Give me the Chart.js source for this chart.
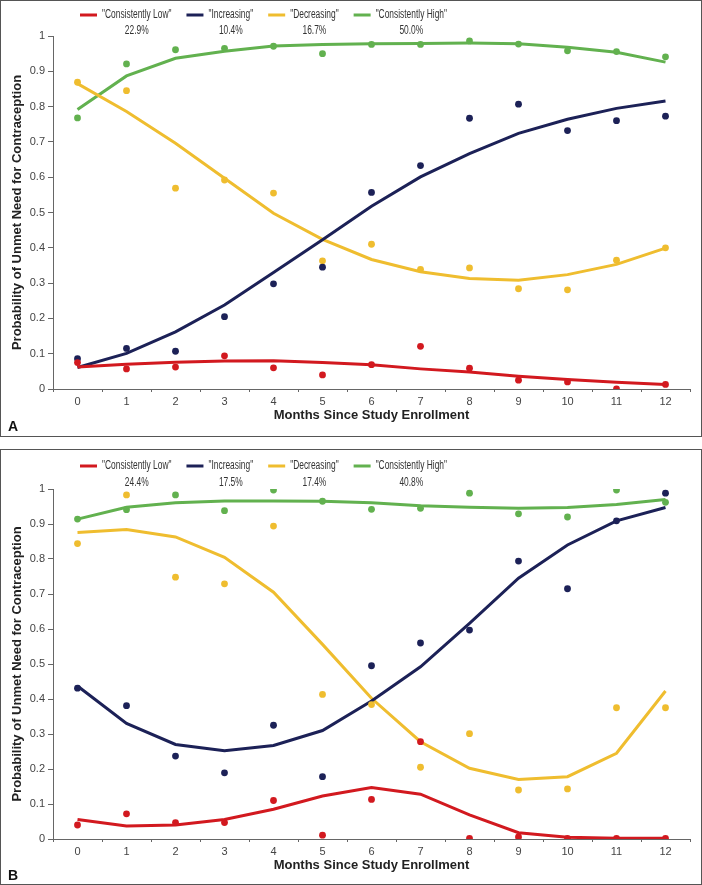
<!DOCTYPE html>
<html>
<head>
<meta charset="utf-8">
<script src="https://cdn.jsdelivr.net/npm/chart.js@4.4.1/dist/chart.umd.min.js"></script>
<style>
  body { margin: 0; background: #fff; width: 702px; height: 885px; position: relative; overflow: hidden; }
  .panel { position: absolute; left: 0; width: 702px; box-sizing: border-box; border: 1px solid #555; }
  #pa { top: 0; height: 437px; }
  #pb { top: 449px; height: 436px; }
  .panel canvas { position: absolute; left: 0; top: 0; }
  .tag { position: absolute; left: 7px; font: bold 14px "Liberation Sans", Arial, sans-serif; color: #111; }
</style>
</head>
<body>
<div class="panel" id="pa"><canvas id="chartA"></canvas><div class="tag" style="top:417px">A</div></div>
<div class="panel" id="pb"><canvas id="chartB"></canvas><div class="tag" style="top:417px">B</div></div>
<script>
const months = ["0", "1", "2", "3", "4", "5", "6", "7", "8", "9", "10", "11", "12"];
const groupNames = ['"Consistently Low"', '"Increasing"', '"Decreasing"', '"Consistently High"'];
const groupColors = ["#d2191f", "#1c2157", "#efbd2f", "#62b14f"];

// panel A
const sharesA = ["22.9%", "10.4%", "16.7%", "50.0%"];
const lowFitA = [0.062, 0.070, 0.076, 0.079, 0.080, 0.075, 0.069, 0.057, 0.048, 0.036, 0.027, 0.019, 0.013];
const lowObsA = [0.075, 0.057, 0.062, 0.094, 0.060, 0.040, 0.069, 0.121, 0.059, 0.025, 0.020, 0.000, 0.013];
const incFitA = [0.061, 0.101, 0.162, 0.238, 0.330, 0.423, 0.518, 0.601, 0.667, 0.724, 0.764, 0.795, 0.816];
const incObsA = [0.086, 0.115, 0.107, 0.205, 0.298, 0.345, 0.557, 0.633, 0.767, 0.807, 0.732, 0.760, 0.773];
const decFitA = [0.865, 0.786, 0.696, 0.597, 0.498, 0.424, 0.367, 0.332, 0.313, 0.308, 0.324, 0.353, 0.399];
const decObsA = [0.869, 0.845, 0.569, 0.592, 0.555, 0.363, 0.410, 0.339, 0.343, 0.284, 0.281, 0.365, 0.400];
const highFitA = [0.792, 0.887, 0.937, 0.957, 0.972, 0.976, 0.978, 0.979, 0.980, 0.978, 0.968, 0.954, 0.926];
const highObsA = [0.768, 0.921, 0.961, 0.965, 0.971, 0.950, 0.976, 0.976, 0.986, 0.977, 0.958, 0.956, 0.941];

// panel B
const sharesB = ["24.4%", "17.5%", "17.4%", "40.8%"];
const lowFitB = [0.056, 0.037, 0.040, 0.056, 0.085, 0.123, 0.147, 0.128, 0.069, 0.018, 0.005, 0.002, 0.002];
const lowObsB = [0.040, 0.072, 0.047, 0.047, 0.110, 0.011, 0.113, 0.278, 0.002, 0.006, 0.002, 0.002, 0.002];
const incFitB = [0.437, 0.330, 0.270, 0.252, 0.267, 0.310, 0.394, 0.492, 0.616, 0.745, 0.840, 0.909, 0.947];
const incObsB = [0.431, 0.381, 0.237, 0.189, 0.325, 0.178, 0.495, 0.560, 0.597, 0.794, 0.715, 0.909, 0.988];
const decFitB = [0.876, 0.884, 0.863, 0.805, 0.705, 0.556, 0.402, 0.278, 0.202, 0.170, 0.178, 0.245, 0.423];
const decObsB = [0.844, 0.983, 0.748, 0.729, 0.894, 0.413, 0.384, 0.205, 0.301, 0.140, 0.143, 0.375, 0.375];
const highFitB = [0.914, 0.948, 0.961, 0.966, 0.966, 0.965, 0.961, 0.952, 0.948, 0.945, 0.947, 0.956, 0.970];
const highObsB = [0.914, 0.941, 0.983, 0.938, 0.997, 0.965, 0.942, 0.945, 0.988, 0.929, 0.920, 0.997, 0.962];

// no narrow font installed, so squeeze the legend text sideways
const legendFont = '12px "Liberation Sans", Arial, sans-serif';
const squeeze = 0.7;

// legend with the group shares under each name
const shareLegend = {
  id: "shareLegend",
  afterDraw(chart, args, opts) {
    const ctx = chart.ctx;
    ctx.save();
    ctx.font = legendFont;
    ctx.textBaseline = "middle";
    let x = 79;
    groupNames.forEach((name, i) => {
      ctx.strokeStyle = groupColors[i];
      ctx.lineWidth = 3;
      ctx.beginPath();
      ctx.moveTo(x, opts.y);
      ctx.lineTo(x + 17, opts.y);
      ctx.stroke();
      x += 22;
      const w = ctx.measureText(name).width * squeeze;
      ctx.fillStyle = "#333";
      ctx.save();
      ctx.translate(x, 0);
      ctx.scale(squeeze, 1);
      ctx.textAlign = "left";
      ctx.fillText(name, 0, opts.y);
      ctx.textAlign = "center";
      ctx.fillText(opts.shares[i], w / 2 / squeeze, opts.pctY);
      ctx.restore();
      x += w + 15;
    });
    ctx.restore();
  },
};

function makeChart(id, w, h, fits, obs, shares, pad, legendY, pctY) {
  const canvas = document.getElementById(id);
  canvas.width = w;
  canvas.height = h;
  const datasets = [];
  fits.forEach((d, i) => {
    datasets.push({
      label: groupNames[i],
      data: d,
      borderColor: groupColors[i],
      backgroundColor: groupColors[i],
      borderWidth: 3,
      pointRadius: 0,
      tension: 0,
      order: 1,
    });
  });
  obs.forEach((d, i) => {
    datasets.push({
      label: groupNames[i] + " observed",
      data: d,
      showLine: false,
      pointRadius: 3.4,
      pointBorderWidth: 0,
      pointBackgroundColor: groupColors[i],
      order: 0,
    });
  });
  return new Chart(canvas, {
    type: "line",
    data: { labels: months, datasets: datasets },
    options: {
      responsive: false,
      animation: false,
      layout: { padding: { top: pad.top, right: 11, bottom: pad.bottom, left: 0 } },
      plugins: {
        legend: { display: false },
        tooltip: { enabled: false },
        shareLegend: { y: legendY, pctY: pctY, shares: shares },
      },
      scales: {
        x: {
          type: "category",
          offset: true,
          afterFit: (s) => { s.height = 45; },
          grid: { offset: true, drawOnChartArea: false, tickLength: 3, color: "#666" },
          border: { color: "#666" },
          ticks: { padding: 3, color: "#444", font: { family: "Liberation Sans", size: 11 } },
          title: {
            display: true,
            text: "Months Since Study Enrollment",
            color: "#222",
            padding: { top: 0, bottom: 11 },
            font: { family: "Liberation Sans", size: 13, weight: "bold" },
          },
        },
        y: {
          min: 0,
          max: 1,
          afterFit: (s) => { s.width = 52; },
          grid: { drawOnChartArea: false, tickLength: 5, color: "#666" },
          border: { color: "#666" },
          ticks: {
            stepSize: 0.1,
            padding: 3,
            color: "#444",
            font: { family: "Liberation Sans", size: 11 },
            callback: (v) => String(+v.toFixed(1)),
          },
          title: {
            display: true,
            text: "Probability of Unmet Need for Contraception",
            color: "#222",
            padding: { top: 9, bottom: 0 },
            font: { family: "Liberation Sans", size: 13, weight: "bold" },
          },
        },
      },
    },
    plugins: [shareLegend],
  });
}

makeChart("chartA", 700, 435,
  [lowFitA, incFitA, decFitA, highFitA],
  [lowObsA, incObsA, decObsA, highObsA],
  sharesA, { top: 35, bottom: 2 }, 14, 30);

makeChart("chartB", 700, 434,
  [lowFitB, incFitB, decFitB, highFitB],
  [lowObsB, incObsB, decObsB, highObsB],
  sharesB, { top: 39, bottom: 0 }, 16, 33);
</script>
</body>
</html>
